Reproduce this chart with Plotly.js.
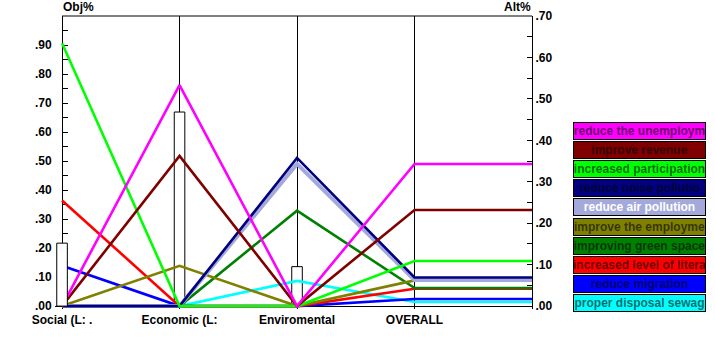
<!DOCTYPE html>
<html><head><meta charset="utf-8">
<script src="https://cdn.plot.ly/plotly-3.0.1.min.js"></script>
<style>html,body{margin:0;padding:0;background:#fff;}#chart{width:715px;height:351px;}</style>
</head><body><div id="chart"></div>
<script>
// ---- data ----
const criteria = ["Social (L: .", "Economic (L:", "Enviromental", "OVERALL"];
const criteriaWeights = [0.217, 0.669, 0.136];
const alternatives = ["reduce the unemploym", "improve revenue", "increased participation", "reduce noise pollutio", "reduce air pollution", "improve the employme", "improving green space", "increased level of litera", "reduce migration", "proper disposal sewag"];
const altColors = ["#ff00ff", "#800000", "#00ff00", "#000080", "#a4a9dc", "#808000", "#008000", "#ff0000", "#0000ff", "#00ffff"];
const socialVals = [0, 0, 0.906, 0, 0, 0, 0, 0.364, 0.139, 0];
const economicVals = [0.762, 0.518, 0, 0, 0, 0.139, 0, 0, 0, 0];
const environmentalVals = [0, 0, 0, 0.511, 0.490, 0, 0.329, 0, 0, 0.087];
const overallVals = [0.343, 0.232, 0.109, 0.069, 0.063, 0.062, 0.0435, 0.042, 0.017, 0.010];
const objTickVals = [0, 0.1, 0.2, 0.3, 0.4, 0.5, 0.6, 0.7, 0.8, 0.9];
const objTickText = [".00", ".10", ".20", ".30", ".40", ".50", ".60", ".70", ".80", ".90"];
const altTickVals = [0, 0.1, 0.2, 0.3, 0.4, 0.5, 0.6, 0.7];
const altTickText = [".00", ".10", ".20", ".30", ".40", ".50", ".60", ".70"];

// ---- layout constants ----
const W = 715, H = 351;
const M = {l: 55, r: 183, t: 16, b: 42};
const xRange = [-0.06, 4];
const objRange = [-0.01, 1.0];
const altRange = [-0.007, 0.7];
const scaleAltToObj = objRange[1] / altRange[1];
const selected = "reduce air pollution";
const FONT = "Liberation Sans, Arial, sans-serif";
const critX = criteria.map((c, i) => i);

const traces = [];
// Economic / Environmental weight bars, below the lines
traces.push({
  type: 'bar', x: critX.slice(1, 3), y: criteriaWeights.slice(1), width: 0.09,
  marker: {color: '#ffffff', line: {color: '#000000', width: 1}},
  hoverinfo: 'skip', showlegend: false, xaxis: 'x', yaxis: 'y'
});
// lines, drawn in reverse legend order
for (let i = alternatives.length - 1; i >= 0; i--) {
  const ov = overallVals[i] * scaleAltToObj;
  traces.push({
    type: 'scatter', mode: 'lines', name: alternatives[i],
    x: [critX[0], critX[1], critX[2], critX[3], 4],
    y: [socialVals[i], economicVals[i], environmentalVals[i], ov, ov],
    line: {color: altColors[i], width: alternatives[i] === selected ? 4 : 2.6},
    hoverinfo: 'skip', showlegend: false, xaxis: 'x', yaxis: 'y'
  });
}
// placeholder to realise the right axis
traces.push({type: 'scatter', mode: 'lines', x: [null], y: [null], xaxis: 'x', yaxis: 'y2', hoverinfo: 'skip', showlegend: false});
// Social weight bar drawn above the lines
traces.push({
  type: 'bar', x: [critX[0]], y: [criteriaWeights[0]], width: 0.09,
  marker: {color: '#ffffff', line: {color: '#000000', width: 1}},
  hoverinfo: 'skip', showlegend: false, xaxis: 'x', yaxis: 'y3'
});

const plotW = W - M.l - M.r, plotH = H - M.t - M.b;
const annotations = [
  {xref: 'x', yref: 'paper', x: 0, y: 1, xanchor: 'left', yanchor: 'bottom', showarrow: false,
   text: 'Obj%', font: {family: FONT, size: 12, weight: 'bold', color: '#000'}, borderpad: 0, yshift: 1},
  {xref: 'x', yref: 'paper', x: 4, y: 1, xanchor: 'right', yanchor: 'bottom', showarrow: false,
   text: 'Alt%', font: {family: FONT, size: 12, weight: 'bold', color: '#000'}, borderpad: 0, yshift: 1}
];
const legLeftPx = 573, legTopPx = 122, legPitch = 19.1;
alternatives.forEach((name, i) => {
  const py = legTopPx + i * legPitch;
  annotations.push({
    xref: 'paper', yref: 'paper',
    x: (legLeftPx - M.l) / plotW, y: 1 - (py - M.t) / plotH,
    xanchor: 'left', yanchor: 'top', showarrow: false,
    text: name, width: 131, height: 16, align: 'center', valign: 'middle',
    bgcolor: altColors[i], bordercolor: '#000', borderwidth: 1, borderpad: 0,
    font: {family: FONT, size: 12, weight: 'bold', color: name === selected ? '#ffffff' : 'rgba(0,0,0,0.6)'}
  });
});

const layout = {
  width: W, height: H, margin: M, paper_bgcolor: '#fff', plot_bgcolor: '#fff',
  showlegend: false, hovermode: false, barmode: 'overlay',
  font: {family: FONT, size: 12, color: '#000'},
  xaxis: {
    range: xRange, fixedrange: true, tickvals: critX, ticktext: criteria,
    showgrid: true, gridcolor: '#000', gridwidth: 1, zeroline: false, showline: false,
    ticks: '', ticklabelstandoff: 2,
    tickfont: {family: FONT, size: 12, weight: 'bold', color: '#000'}
  },
  yaxis: {
    range: objRange, fixedrange: true, anchor: 'free', position: (0 - xRange[0]) / (xRange[1] - xRange[0]),
    layer: 'below traces',
    tickvals: objTickVals, ticktext: objTickText, ticks: 'inside', ticklen: 5, tickcolor: '#000',
    minor: {dtick: 0.05, tick0: 0, ticks: 'inside', ticklen: 5, tickcolor: '#000', showgrid: false},
    showline: true, linecolor: '#000', linewidth: 1, showgrid: false,
    zeroline: true, zerolinecolor: '#000', zerolinewidth: 1,
    ticklabelstandoff: 8,
    tickfont: {family: FONT, size: 12, weight: 'bold', color: '#000'}
  },
  yaxis2: {
    range: altRange, fixedrange: true, overlaying: 'y', side: 'right', anchor: 'x',
    tickvals: altTickVals, ticktext: altTickText, ticks: 'inside', ticklen: 5, tickcolor: '#000',
    minor: {dtick: 0.05, tick0: 0, ticks: 'inside', ticklen: 5, tickcolor: '#000', showgrid: false},
    showline: true, linecolor: '#000', linewidth: 1, showgrid: false, zeroline: false,
    ticklabelstandoff: 0,
    tickfont: {family: FONT, size: 12, weight: 'bold', color: '#000'}
  },
  yaxis3: {range: objRange, fixedrange: true, overlaying: 'y', anchor: 'x', visible: false},
  shapes: [
    {type: 'line', xref: 'x', yref: 'paper', x0: 0, x1: 4, y0: 1, y1: 1, line: {color: '#000', width: 1}}
  ],
  annotations: annotations
};

Plotly.newPlot('chart', traces, layout, {staticPlot: true, displayModeBar: false});
</script>
</body></html>
